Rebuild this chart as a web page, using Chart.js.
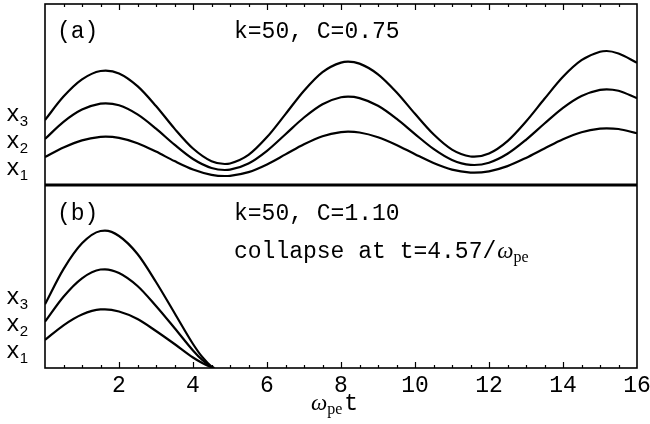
<!DOCTYPE html>
<html>
<head>
<meta charset="utf-8">
<script src="https://cdn.jsdelivr.net/npm/chart.js@4.4.1/dist/chart.umd.min.js"></script>
<style>
  html, body { margin: 0; padding: 0; background: #fff; }
  #wrap { width: 650px; height: 424px; }
</style>
</head>
<body>
<div id="wrap"><canvas id="plasma" width="650" height="424"></canvas></div>
<script>
// panel (a): k=50, C=0.75 -- time in units of 1/omega_pe, positions in arbitrary units
const timeA = [0, 0.5, 1, 1.5, 1.64, 2, 2.5, 3, 3.5, 4, 4.5, 4.86, 5, 5.5, 6, 6.5, 7, 7.5, 8, 8.19,
               8.5, 9, 9.5, 10, 10.5, 11, 11.5, 11.6, 12, 12.5, 13, 13.5, 14, 14.5, 15, 15.18, 15.5, 16];
const x3A = [65, 88.4, 105.6, 114, 114.3, 111.6, 98.9, 79, 56.4, 36.5, 23.8, 21, 21.5, 30.1, 47.9, 70.9, 94.3, 112.9, 122.4, 123.3,
             121.4, 110.7, 92.8, 71.2, 50.7, 35.4, 28.5, 28.3, 31.5, 43.9, 63.5, 86.2, 108.2, 124.8, 133.3, 134, 131.5, 122.3];
const x2A = [46, 63.1, 75.4, 81.4, 81.7, 79.7, 70.6, 56.4, 40.3, 26, 17, 15, 15.3, 21.5, 34.2, 50.8, 67.5, 80.8, 87.7, 88.3,
             86.9, 79.2, 66.3, 50.9, 36.1, 25.1, 20.1, 20, 22.3, 31.2, 45.2, 61.5, 77.2, 89.1, 95.2, 95.7, 94.2, 86.7];
const x1A = [28, 37.4, 44.6, 48.1, 48.3, 47.1, 41.8, 33.4, 23.9, 15.5, 10.2, 9, 9.2, 12.9, 20.6, 30.6, 40.7, 48.8, 52.9, 53.3,
             52.5, 47.8, 40.1, 30.8, 22, 15.4, 12.4, 12.3, 13.7, 18.9, 27.1, 36.6, 45.8, 52.8, 56.4, 56.7, 56, 51.7];

// panel (b): k=50, C=1.10 -- collapse at t=4.57
const timeB = [0, 0.5, 1, 1.5, 1.62, 2, 2.5, 3, 3.5, 4, 4.25, 4.5, 4.57];
const x3B = [63.7, 98.9, 124.7, 137, 137.3, 132, 114, 86, 55, 24, 11, 1.5, 0];
const x2B = [46.3, 71.3, 89.7, 98.5, 98.7, 95, 82, 62, 40, 17.5, 8, 1, 0];
const x1B = [28, 42.7, 53.5, 58.6, 58.7, 56.5, 49, 37, 24, 10.5, 5, 0.7, 0];

const xTicks = [2, 4, 6, 8, 10, 12, 14, 16];
const yLabelPos = [16, 43, 70];
const yLabels = ['1', '2', '3'];   // drawn as x with a subscript

const black = '#000';
const mono = '"Liberation Mono", "Courier New", monospace';
const serif = '"Liberation Serif", "DejaVu Serif", serif';
const sans = '"Liberation Sans", "DejaVu Sans", sans-serif';

function pts(ts, ys) {
  return ts.map((t, i) => ({ x: t, y: ys[i] }));
}

function curve(label, ts, ys, axis) {
  return {
    label,
    data: pts(ts, ys),
    yAxisID: axis,
    borderColor: black,
    borderWidth: 2.2,
    pointRadius: 0,
    fill: false,
    cubicInterpolationMode: 'monotone'
  };
}

function noPad(s) {
  s.paddingTop = 0;
  s.paddingBottom = 0;
  s.paddingLeft = 0;
  s.paddingRight = 0;
}

function yScale(max) {
  return {
    type: 'linear',
    position: 'left',
    stack: 'panels',
    stackWeight: max,
    min: 0,
    max: max,
    afterBuildTicks: s => { s.ticks = yLabelPos.map(v => ({ value: v })); },
    afterFit: s => { s.width = 45; noPad(s); },
    grid: { display: false, drawTicks: false },
    border: { display: false },
    ticks: { callback: () => '' }
  };
}

// text with a lowered subscript, returns x where it ends
function subText(ctx, x, y, main, mainFont, sub, subFont, drop) {
  ctx.font = mainFont;
  ctx.fillText(main, x, y);
  x += ctx.measureText(main).width;
  ctx.font = subFont;
  ctx.fillText(sub, x, y + drop);
  return x + ctx.measureText(sub).width;
}

const framePlugin = {
  id: 'frame',
  afterDatasetsDraw(chart) {
    const { ctx, chartArea: a, scales } = chart;
    const xs = scales.x;
    const split = Math.min(scales.ya.bottom, scales.yb.bottom);
    ctx.save();
    ctx.strokeStyle = black;
    ctx.lineWidth = 1.6;
    ctx.strokeRect(a.left, a.top, a.right - a.left, a.bottom - a.top);
    ctx.lineWidth = 3;
    ctx.beginPath();
    ctx.moveTo(a.left, split);
    ctx.lineTo(a.right, split);
    ctx.stroke();
    // inward ticks on the top and bottom edges
    ctx.lineWidth = 1.2;
    for (let t = 0.5; t < 16; t += 0.5) {
      const px = Math.round(xs.getPixelForValue(t)) + 0.5;
      const len = t % 2 === 0 ? 6 : 3;
      ctx.beginPath();
      ctx.moveTo(px, a.top);
      ctx.lineTo(px, a.top + len);
      ctx.moveTo(px, a.bottom);
      ctx.lineTo(px, a.bottom - len);
      ctx.stroke();
    }
    ctx.restore();
  },
  afterDraw(chart) {
    const ctx = chart.ctx;
    const big = '23px ' + mono;
    const omega = 'italic 23px ' + serif;
    const small = '16px ' + serif;
    ctx.save();
    ctx.fillStyle = black;
    ctx.textBaseline = 'alphabetic';
    ctx.textAlign = 'left';

    // y labels x1, x2, x3 at the ticks of both panels
    ['ya', 'yb'].forEach(id => {
      const s = chart.scales[id];
      s.ticks.forEach((tk, i) => {
        const py = s.getPixelForValue(tk.value);
        subText(ctx, 6, py + 6, 'x', big, yLabels[i], '15px ' + sans, 5);
      });
    });

    ctx.font = big;
    ctx.fillText('(a)', 57, 38);
    ctx.fillText('k=50, C=0.75', 234, 38);
    ctx.fillText('(b)', 57, 220);
    ctx.fillText('k=50, C=1.10', 234, 220);
    ctx.fillText('collapse at t=4.57/', 234, 258);
    ctx.font = big;
    const cx = 234 + ctx.measureText('collapse at t=4.57/').width;
    subText(ctx, cx + 1, 258, 'ω', omega, 'pe', small, 4);
    // axis title
    let x = subText(ctx, 311, 410, 'ω', omega, 'pe', small, 4);
    ctx.font = big;
    ctx.fillText('t', x + 2, 410);
    ctx.restore();
  }
};

new Chart(document.getElementById('plasma'), {
  type: 'line',
  data: {
    datasets: [
      curve('x1 (a)', timeA, x1A, 'ya'),
      curve('x2 (a)', timeA, x2A, 'ya'),
      curve('x3 (a)', timeA, x3A, 'ya'),
      curve('x1 (b)', timeB, x1B, 'yb'),
      curve('x2 (b)', timeB, x2B, 'yb'),
      curve('x3 (b)', timeB, x3B, 'yb')
    ]
  },
  options: {
    responsive: false,
    animation: false,
    layout: { padding: { top: 4, right: 13, left: 0, bottom: 0 } },
    plugins: {
      legend: { display: false },
      tooltip: { enabled: false }
    },
    scales: {
      x: {
        type: 'linear',
        min: 0,
        max: 16,
        afterBuildTicks: s => { s.ticks = xTicks.map(v => ({ value: v })); },
        afterFit: s => { s.height = 56; noPad(s); },
        grid: { display: false, drawTicks: false },
        border: { display: false },
        ticks: {
          color: black,
          font: { family: mono, size: 23 },
          padding: 4,
          maxRotation: 0
        }
      },
      // listed bottom panel first so that panel (a) is stacked on top
      yb: yScale(183),
      ya: yScale(181)
    }
  },
  plugins: [framePlugin]
});
</script>
</body>
</html>
